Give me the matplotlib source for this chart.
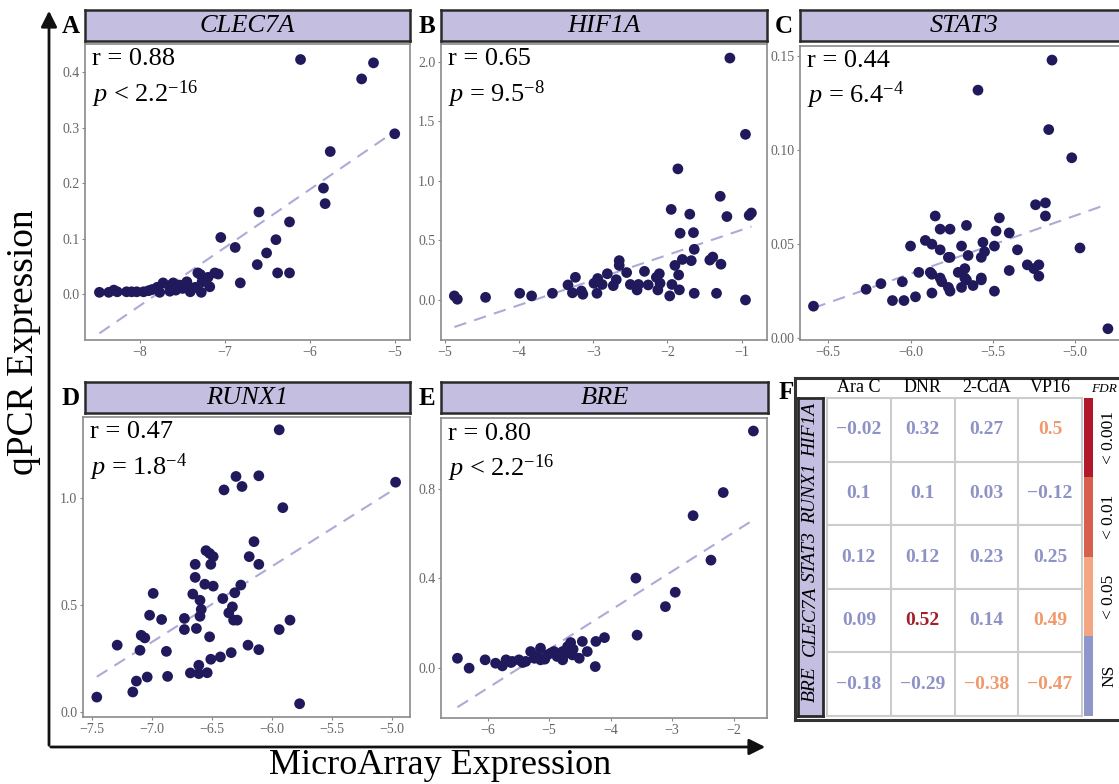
import numpy as np
import matplotlib
matplotlib.use('Agg')
import matplotlib.pyplot as plt
from matplotlib.colors import ListedColormap

plt.rcParams['font.family'] = ['Liberation Serif', 'DejaVu Serif']
plt.rcParams['mathtext.fontset'] = 'custom'
plt.rcParams['mathtext.rm'] = 'Liberation Serif'
plt.rcParams['mathtext.it'] = 'Liberation Serif:italic'

# ---- data ----
clec7a_x = [-6.11, -5.39, -5.25, -5.00, -5.76, -5.84, -5.82, -6.60, -6.24, -6.40,
            -6.51, -6.62, -6.38, -6.24, -7.05, -6.88, -6.82, -7.08, -7.12, -7.32,
            -7.29, -7.45, -7.41, -7.28, -7.18, -7.27, -7.53, -7.58, -7.73, -7.66,
            -7.80, -7.77, -7.86, -7.96, -8.04, -8.10, -8.16, -8.27, -8.31, -8.37,
            -8.48, -7.61, -7.45, -7.20, -7.35, -7.50, -7.65, -7.90]
clec7a_y = [0.423, 0.388, 0.417, 0.289, 0.257, 0.191, 0.163, 0.148, 0.130, 0.098,
            0.074, 0.053, 0.038, 0.038, 0.102, 0.084, 0.020, 0.036, 0.038, 0.038,
            0.035, 0.020, 0.004, 0.003, 0.013, 0.022, 0.016, 0.007, 0.020, 0.015,
            0.012, 0.003, 0.008, 0.004, 0.004, 0.004, 0.004, 0.004, 0.007, 0.003,
            0.003, 0.020, 0.022, 0.030, 0.012, 0.010, 0.005, 0.006]

hif1a_x = [-1.16, -0.95, -1.86, -1.95, -1.29, -1.70, -1.20, -0.90, -0.87, -1.83,
           -1.65, -1.64, -1.80, -1.90, -1.68, -1.43, -1.39, -1.28, -1.85, -1.84,
           -1.97, -1.94, -1.64, -1.34, -0.95, -2.15, -2.11, -2.10, -2.13, -2.26,
           -2.31, -2.41, -2.39, -2.50, -2.55, -2.65, -2.65, -2.69, -2.73, -2.81,
           -2.88, -2.94, -2.95, -2.99, -3.24, -3.34, -3.14, -3.16, -3.28, -3.55,
           -3.83, -3.99, -4.45, -4.87, -4.83]
hif1a_y = [2.03, 1.39, 1.10, 0.76, 0.87, 0.72, 0.70, 0.71, 0.73, 0.56,
           0.565, 0.425, 0.34, 0.29, 0.33, 0.335, 0.36, 0.30, 0.21, 0.085,
           0.034, 0.13, 0.056, 0.056, 0.0, 0.19, 0.22, 0.14, 0.084, 0.126,
           0.24, 0.084, 0.13, 0.13, 0.23, 0.33, 0.29, 0.17, 0.12, 0.22,
           0.13, 0.18, 0.056, 0.14, 0.19, 0.126, 0.048, 0.075, 0.06, 0.056,
           0.034, 0.056, 0.022, 0.034, 0.006]

stat3_x = [-5.14, -5.59, -5.16, -5.02, -4.97, -4.80, -5.24, -5.18, -5.18, -5.46,
           -5.48, -5.40, -5.49, -5.35, -5.56, -5.55, -5.57, -5.65, -5.66, -5.69,
           -5.67, -5.71, -5.66, -5.69, -5.62, -5.57, -5.57, -5.49, -5.40, -5.29,
           -5.22, -5.25, -5.22, -5.82, -5.76, -5.85, -5.91, -5.87, -5.82, -5.77,
           -5.76, -6.00, -5.95, -5.87, -5.88, -5.81, -5.77, -5.76, -5.87, -5.82,
           -5.97, -6.04, -6.11, -6.05, -6.18, -6.27, -6.59, -5.67]
stat3_y = [0.148, 0.132, 0.111, 0.096, 0.048, 0.005, 0.071, 0.072, 0.065, 0.064,
           0.057, 0.056, 0.049, 0.047, 0.051, 0.046, 0.043, 0.044, 0.060, 0.049,
           0.037, 0.035, 0.031, 0.027, 0.028, 0.032, 0.031, 0.025, 0.036, 0.039,
           0.039, 0.037, 0.033, 0.058, 0.058, 0.065, 0.052, 0.050, 0.047, 0.043,
           0.043, 0.049, 0.035, 0.034, 0.035, 0.030, 0.027, 0.025, 0.024, 0.032,
           0.022, 0.020, 0.020, 0.030, 0.029, 0.026, 0.017, 0.032]

runx1_x = [-5.94, -4.97, -6.30, -6.11, -6.40, -6.25, -5.91, -6.15, -6.19, -6.11,
           -6.55, -6.52, -6.49, -6.51, -6.64, -6.64, -6.56, -6.49, -6.26, -6.31,
           -6.41, -6.66, -6.60, -6.59, -6.60, -6.33, -6.36, -6.32, -6.29, -5.85,
           -5.94, -6.73, -6.73, -6.63, -6.52, -6.99, -7.02, -6.92, -7.09, -7.06,
           -7.29, -7.10, -6.88, -6.43, -6.51, -6.34, -6.20, -6.11, -6.61, -6.68,
           -6.61, -6.54, -7.04, -6.87, -7.13, -7.16, -7.46, -5.77]
runx1_y = [1.320, 1.075, 1.102, 1.105, 1.039, 1.055, 0.956, 0.797, 0.727, 0.691,
           0.755, 0.742, 0.727, 0.691, 0.691, 0.630, 0.598, 0.589, 0.594, 0.558,
           0.531, 0.552, 0.523, 0.480, 0.448, 0.492, 0.464, 0.430, 0.430, 0.430,
           0.386, 0.438, 0.386, 0.391, 0.352, 0.555, 0.453, 0.433, 0.359, 0.347,
           0.313, 0.289, 0.284, 0.258, 0.247, 0.278, 0.313, 0.292, 0.219, 0.183,
           0.180, 0.184, 0.164, 0.167, 0.145, 0.094, 0.070, 0.039]

bre_x = [-1.68, -2.17, -2.66, -2.37, -3.59, -2.95, -3.11, -3.57, -4.10, -4.24,
         -4.46, -4.65, -4.38, -4.70, -4.51, -4.62, -4.76, -4.78, -4.92, -5.03,
         -5.14, -5.14, -5.30, -5.24, -5.38, -5.49, -5.60, -5.70, -5.76, -5.87,
         -6.04, -6.30, -6.49, -4.25, -4.61, -4.87, -5.07, -5.19, -5.43, -5.62,
         -4.78, -4.97]
bre_y = [1.056, 0.782, 0.679, 0.481, 0.401, 0.338, 0.274, 0.147, 0.136, 0.119,
         0.119, 0.114, 0.074, 0.096, 0.044, 0.059, 0.059, 0.037, 0.074, 0.059,
         0.089, 0.037, 0.074, 0.044, 0.030, 0.037, 0.030, 0.037, 0.010, 0.022,
         0.037, 0.000, 0.044, 0.007, 0.084, 0.052, 0.040, 0.052, 0.025, 0.025,
         0.074, 0.067]

stats_r = ['0.88', '0.65', '0.44', '0.47', '0.80']
stats_p = [('<', '2.2', '-16'), ('=', '9.5', '-8'), ('=', '6.4', '-4'),
           ('=', '1.8', '-4'), ('<', '2.2', '-16')]

heat_genes = ['HIF1A', 'RUNX1', 'STAT3', 'CLEC7A', 'BRE']
heat_drugs = ['Ara C', 'DNR', '2-CdA', 'VP16']
heat_corr = [[-0.02, 0.32, 0.27, 0.5],
             [0.1, 0.1, 0.03, -0.12],
             [0.12, 0.12, 0.23, 0.25],
             [0.09, 0.52, 0.14, 0.49],
             [-0.18, -0.29, -0.38, -0.47]]
# 0 = NS, 1 = < 0.05, 2 = < 0.01, 3 = < 0.001
heat_fdr = [[0, 0, 0, 1],
            [0, 0, 0, 0],
            [0, 0, 0, 0],
            [0, 3, 0, 1],
            [0, 0, 1, 1]]
fdr_labels = ['NS', '< 0.05', '< 0.01', '< 0.001']

# ---- styling ----
W, H = 1119, 784
PURPLE = '#c4bee0'
POINT = '#201a5c'
LINE = '#aeaad8'
FDR_COLORS = ['#8e96ca', '#f4a582', '#d6604d', '#b2182b']
TEXT_COLORS = ['#8e92c6', '#f09a6c', '#d6604d', '#a3202a']

fig = plt.figure(figsize=(W / 100, H / 100), dpi=100)


def px_axes(x0, y0, x1, y1):
    return fig.add_axes([x0 / W, 1 - y1 / H, (x1 - x0) / W, (y1 - y0) / H])


def strip(rect, title):
    s = px_axes(*rect)
    s.set_facecolor(PURPLE)
    s.set_xticks([])
    s.set_yticks([])
    for sp in s.spines.values():
        sp.set_color('#2a2a2a')
        sp.set_linewidth(1.8)
    s.text(0.5, 0.47, title, style='italic', ha='center', va='center',
           fontsize=19, transform=s.transAxes)


def scatter_panel(rect, strip_rect, title, xs, ys, xlim, ylim, xt, yt, xfmt, yfmt, idx):
    strip(strip_rect, title)
    ax = px_axes(*rect)
    xs = np.array(xs)
    ys = np.array(ys)
    k, b = np.polyfit(xs, ys, 1)
    lx = np.array([xs.min(), xs.max()])
    ax.plot(lx, k * lx + b, ls=(0, (6, 4)), color=LINE, lw=1.5, zorder=1)
    ax.scatter(xs, ys, s=60, color=POINT, edgecolor='none', zorder=2)
    ax.set_xlim(*xlim)
    ax.set_ylim(*ylim)
    ax.set_xticks(xt)
    ax.set_xticklabels([xfmt.format(v).replace('-', '\u2212') for v in xt])
    ax.set_yticks(yt)
    ax.set_yticklabels([yfmt.format(v) for v in yt])
    ax.tick_params(labelsize=10, labelcolor='#666666', color='#888888',
                   length=2, width=0.8, pad=2)
    for sp in ax.spines.values():
        sp.set_color('#8a8a8a')
        sp.set_linewidth(1.2)
    rel, val, ex = stats_p[idx]
    ax.text(0.022, 0.985, 'r = ' + stats_r[idx], transform=ax.transAxes,
            ha='left', va='top', fontsize=19)
    ax.text(0.022, 0.885, r'$\mathit{p}$ ' + rel + ' ' + val + r'$^{\mathrm{' + ex + '}}$',
            transform=ax.transAxes, ha='left', va='top', fontsize=19)
    return ax


scatter_panel((85, 44, 410, 340), (85, 10, 410, 41), 'CLEC7A', clec7a_x, clec7a_y,
              (-8.65, -4.82), (-0.083, 0.451), [-8, -7, -6, -5],
              [0, 0.1, 0.2, 0.3, 0.4], '{:.0f}', '{:.1f}', 0)
scatter_panel((441, 44, 767, 340), (441, 10, 767, 41), 'HIF1A', hif1a_x, hif1a_y,
              (-5.05, -0.66), (-0.336, 2.148), [-5, -4, -3, -2, -1],
              [0, 0.5, 1.0, 1.5, 2.0], '{:.0f}', '{:.1f}', 1)
scatter_panel((800, 46, 1128, 340), (800, 10, 1128, 41), 'STAT3', stat3_x, stat3_y,
              (-6.672, -4.678), (-0.001, 0.1555), [-6.5, -6.0, -5.5, -5.0],
              [0, 0.05, 0.10, 0.15], '{:.1f}', '{:.2f}', 2)
scatter_panel((83, 417, 410, 717), (85, 382, 410, 413), 'RUNX1', runx1_x, runx1_y,
              (-7.575, -4.85), (-0.023, 1.38), [-7.5, -7.0, -6.5, -6.0, -5.5, -5.0],
              [0, 0.5, 1.0], '{:.1f}', '{:.1f}', 3)
scatter_panel((441, 418, 767, 718), (441, 382, 768, 413), 'BRE', bre_x, bre_y,
              (-6.757, -1.459), (-0.222, 1.114), [-6, -5, -4, -3, -2],
              [0, 0.4, 0.8], '{:.0f}', '{:.1f}', 4)

# ---- panel F: heatmap ----
box = px_axes(795, 378, 1128, 720)
box.set_xticks([])
box.set_yticks([])
for sp in box.spines.values():
    sp.set_color('#333333')
    sp.set_linewidth(2.2)

side = px_axes(798, 398, 823, 716)
side.set_facecolor(PURPLE)
side.set_xticks([])
side.set_yticks([])
side.set_xlim(0, 1)
side.set_ylim(len(heat_genes), 0)
for sp in side.spines.values():
    sp.set_color('#2a2a2a')
    sp.set_linewidth(2)
for i, g in enumerate(heat_genes):
    side.text(0.5, i + 0.5, g, rotation=90, style='italic', ha='center', va='center',
              fontsize=14)

hm = px_axes(827, 398, 1082, 716)
hm.set_xlim(0, len(heat_drugs))
hm.set_ylim(len(heat_genes), 0)
hm.set_xticks([])
hm.set_yticks([])
for sp in hm.spines.values():
    sp.set_color('#cccccc')
    sp.set_linewidth(1.5)
for v in range(1, len(heat_drugs)):
    hm.axvline(v, color='#cccccc', lw=1.5)
for v in range(1, len(heat_genes)):
    hm.axhline(v, color='#cccccc', lw=1.5)
for i, row in enumerate(heat_corr):
    for j, val in enumerate(row):
        hm.text(j + 0.5, i + 0.5, f'{val:g}'.replace('-', '\u2212'),
                color=TEXT_COLORS[heat_fdr[i][j]], fontweight='bold',
                ha='center', va='center', fontsize=14)

cb = px_axes(1084, 398, 1093, 716)
cb.imshow(np.arange(len(fdr_labels))[::-1].reshape(-1, 1), cmap=ListedColormap(FDR_COLORS),
          aspect='auto', extent=(0, 1, 0, len(fdr_labels)), origin='upper')
cb.set_xticks([])
cb.set_yticks([])
for sp in cb.spines.values():
    sp.set_visible(False)

# overlay for arrows and big labels, drawn on top
ov = px_axes(0, 0, W, H)
ov.set_zorder(10)
ov.patch.set_visible(False)
ov.set_xlim(0, W)
ov.set_ylim(H, 0)
ov.axis('off')
ov.annotate('', xy=(49, 8), xytext=(49, 748),
            arrowprops=dict(arrowstyle='-|>', lw=2, color='#111111', mutation_scale=24))
ov.annotate('', xy=(768, 747), xytext=(48, 747),
            arrowprops=dict(arrowstyle='-|>', lw=2, color='#111111', mutation_scale=24))
ov.text(24, 342, 'qPCR Expression', rotation=90, ha='center', va='center', fontsize=27)
ov.text(440, 766, 'MicroArray Expression', ha='center', va='center', fontsize=26)
for lab, (lx, ly) in zip('ABCDEF', [(71, 26), (427, 26), (784, 26),
                                     (71, 398), (427, 398), (786, 392)]):
    ov.text(lx, ly, lab, fontweight='bold', fontsize=18, ha='center', va='center')

for j, d in enumerate(heat_drugs):
    ov.text(827 + (j + 0.5) * 255 / len(heat_drugs), 396, d, ha='center', va='bottom',
            fontsize=13)
for k, lab in enumerate(fdr_labels):
    ov.text(1109, 716 - (k + 0.5) * (318 / len(fdr_labels)), lab, rotation=90,
            ha='center', va='center', fontsize=12.5)
ov.text(1104, 389, 'FDR', style='italic', ha='center', va='center', fontsize=9.5)

fig.savefig('out.png', dpi=100)
